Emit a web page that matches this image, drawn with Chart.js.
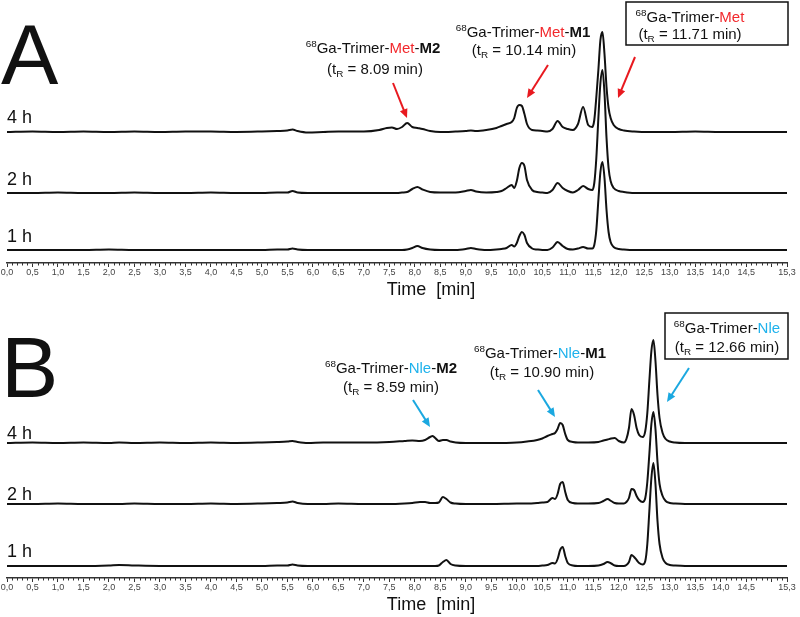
<!DOCTYPE html>
<html>
<head>
<meta charset="utf-8">
<script src="https://cdn.jsdelivr.net/npm/chart.js@4.4.1/dist/chart.umd.min.js"></script>
<style>
  html, body { margin: 0; padding: 0; background: #fff; }
  canvas { display: block; }
</style>
</head>
<body>
<canvas id="panelA" width="800" height="308"></canvas>
<canvas id="panelB" width="800" height="309"></canvas>
<script>
// ---- data (signal above each trace's baseline) ----
var traceNames = ['4 h', '2 h', '1 h'];
var tickValues = [0, 0.5, 1, 1.5, 2, 2.5, 3, 3.5, 4, 4.5, 5, 5.5, 6, 6.5, 7, 7.5, 8, 8.5, 9, 9.5,
                  10, 10.5, 11, 11.5, 12, 12.5, 13, 13.5, 14, 14.5, 15, 15.3];

// panel A : 68Ga-Trimer-Met
var timeA = [
  0, 0.5, 1, 1.5, 2, 2.5, 3, 3.5, 4, 4.5,
  5, 5.3, 5.5, 5.6, 5.7, 5.9, 6.2, 6.5, 7.0, 7.3,
  7.45, 7.55, 7.65, 7.75, 7.85, 7.95, 8.05, 8.15, 8.3, 8.5,
  8.8, 9.0, 9.1, 9.2, 9.4, 9.6, 9.7, 9.8, 9.9, 9.95,
  10.0, 10.05, 10.1, 10.15, 10.2, 10.3, 10.4, 10.5, 10.6, 10.7,
  10.8, 10.9, 11.0, 11.1, 11.2, 11.3, 11.4, 11.48, 11.52, 11.56,
  11.6, 11.64, 11.68, 11.72, 11.76, 11.8, 11.84, 11.9, 12.0, 12.1,
  12.3, 12.6, 13, 13.5, 14, 14.5, 15.3
];
var metA4h = [
  0, 0.5, 0, 0.5, 0, 0.5, 0, 0.5, 0.5, 0,
  0.5, 1, 1.5, 2.5, 1, -0.5, 0, 0.5, 0.5, 2,
  4, 4.5, 3, 5, 9, 5, 4, 3, 1, 0,
  0.5, 1, 1.5, 1, 2, 4, 6, 8, 10, 14,
  24, 27, 26, 18, 8, 2, 1.5, 1, 0.5, 3,
  11, 5, 3, 2, 8, 25, 7, 5, 12, 35,
  62, 92, 100, 78, 45, 24, 14, 7, 3, 1.5,
  0.5, 0, 0, 0.5, 0, 0, 0
];
var metA2h = [
  0, 0, 0.5, 0, 0, 0.5, 0, 0, 0.5, 0,
  0, 0.5, 0.5, 2, 0.5, 0, 0, 0, 0, 0,
  0, 0, 0, 0.5, 1, 4, 6, 3.5, 1, 0.5,
  0.5, 2, 3, 1.5, 0.5, 1, 2, 5, 8, 5,
  12, 25, 30, 27, 13, 3, 1, 0.5, 0, 3,
  10, 5, 2, 0.5, 3, 7, 4, 3, 10, 35,
  75, 110, 123, 100, 55, 25, 12, 5, 2, 1,
  0, 0, 0, 0, 0, 0, 0
];
var metA1h = [
  0, 0, 0, 0, 0.5, 0, 0, 0, 0, 0,
  0, 0.5, 0.5, 1.5, 0.5, 0, 0, 0, 0, 0,
  0, 0, 0, 0, 0.5, 2, 4, 2, 0.5, 0,
  0, 1, 2, 1, 0, 0.5, 1, 2, 5, 3.5,
  7, 14, 18, 15, 7, 1.5, 0.5, 0, 0, 2.5,
  8, 4, 1, 0.5, 1.5, 3, 1.5, 1.5, 5, 20,
  50, 78, 88, 72, 40, 18, 8, 3, 1, 0.5,
  0, 0, 0, 0, 0, 0, 0
];

// panel B : 68Ga-Trimer-Nle
var timeB = [
  0, 0.5, 1, 1.5, 2, 2.2, 2.5, 3, 3.5, 4,
  4.5, 5, 5.3, 5.5, 5.6, 5.7, 5.9, 6.2, 6.5, 7.0,
  7.5, 7.8, 7.95, 8.1, 8.2, 8.3, 8.35, 8.4, 8.47, 8.55,
  8.62, 8.7, 8.8, 9.0, 9.5, 10.0, 10.2, 10.4, 10.5, 10.6,
  10.7, 10.75, 10.8, 10.85, 10.9, 10.95, 11.0, 11.1, 11.2, 11.4,
  11.6, 11.7, 11.78, 11.85, 11.92, 12.0, 12.1, 12.15, 12.2, 12.25,
  12.3, 12.35, 12.4, 12.47, 12.52, 12.56, 12.6, 12.64, 12.68, 12.72,
  12.76, 12.8, 12.86, 12.92, 13.0, 13.1, 13.3, 13.6, 14, 14.5,
  15.3
];
var nleB4h = [
  0, 0.5, 0, 0.5, 0, 0.5, 0, 0.5, 0, 0.5,
  0, 0.5, 1, 1.5, 2, 1, 0, 0.5, 0.5, 0.5,
  1, 2, 2.5, 2, 3, 6, 7, 5, 2, 3,
  3, 1.5, 0.5, 0, 0, 0.5, 1.5, 3, 4.5, 7,
  9, 10, 14, 20, 18, 9, 3, 1, 0.5, 0.5,
  1, 2.5, 3.5, 4.5, 5, 2, 0.5, 4, 15, 34,
  28, 15, 8, 6, 12, 30, 62, 92, 103, 82,
  48, 25, 10, 4, 1.5, 0.5, 0, 0, 0, 0,
  0
];
var nleB2h = [
  0, 0, 0.5, 0, 0, 0, 0.5, 0, 0, 0.5,
  0, 0.5, 1, 1.5, 2.5, 1, 0, 0, 0.5, 0,
  0, 0.5, 1, 2, 2, 1, 1, 1, 1.5, 7,
  5, 1.5, 0.5, 0, 0, 0.5, 0.5, 1, 1.5, 2,
  6, 5, 10, 20, 22, 12, 4, 1, 0.5, 0.5,
  1, 3, 5, 3, 1, 0.5, 0.5, 2, 6, 15,
  14, 8, 4, 2, 6, 22, 50, 80, 92, 75,
  42, 20, 8, 3, 1, 0.5, 0, 0, 0, 0,
  0
];
var nleB1h = [
  0, 0, 0, 0, 0.5, 1, 0.5, 0, 0, 0,
  0, 0, 0.5, 0.5, 1.5, 0.5, 0, 0, 0, 0,
  0, 0, 0, 0, 0, 0, 0, 0, 0.5, 4,
  6, 2, 0.5, 0, 0, 0, 0, 0, 0.5, 1,
  3, 2.5, 7, 16, 19, 10, 3, 0.5, 0, 0,
  0.5, 2, 4, 2.5, 0.5, 0, 0, 1, 4, 11,
  9, 6, 3, 1.5, 5, 22, 55, 88, 103, 82,
  45, 22, 8, 3, 1, 0.5, 0, 0, 0, 0,
  0
];

// ---- look ----
var RED = '#f2282c', RED_ARROW = '#e8191f';
var BLUE = '#1fb2ec', BLUE_ARROW = '#1ba8e0';
var INK = '#111';
Chart.defaults.font.family = "'Liberation Sans', Arial, sans-serif";

function nameRuns(tag, color, suffix) {
  var r = [{ t: '68', sup: true }, { t: 'Ga-Trimer-' }, { t: tag, c: color }];
  if (suffix) { r.push({ t: '-' }); r.push({ t: suffix, b: true }); }
  return r;
}
function trRuns(val) {
  return [{ t: '(t' }, { t: 'R', sub: true }, { t: ' = ' + val + ' min)' }];
}

function runFont(r, size) {
  var s = (r.sup || r.sub) ? size * 0.66 : size;
  return (r.b ? 'bold ' : '') + s + "px 'Liberation Sans', Arial, sans-serif";
}
function drawRich(ctx, runs, cx, by, size) {
  var w = 0;
  runs.forEach(function (r) { ctx.font = runFont(r, size); w += ctx.measureText(r.t).width; });
  var x = cx - w / 2;
  ctx.textAlign = 'left';
  ctx.textBaseline = 'alphabetic';
  runs.forEach(function (r) {
    ctx.font = runFont(r, size);
    ctx.fillStyle = r.c || INK;
    var dy = r.sup ? -size * 0.38 : (r.sub ? size * 0.22 : 0);
    ctx.fillText(r.t, x, by + dy);
    x += ctx.measureText(r.t).width;
  });
}
function drawArrow(ctx, a, color) {
  var x1 = a[0], y1 = a[1], x2 = a[2], y2 = a[3];
  var ang = Math.atan2(y2 - y1, x2 - x1), hl = 9, hw = 4;
  ctx.strokeStyle = color; ctx.fillStyle = color; ctx.lineWidth = 2;
  ctx.beginPath();
  ctx.moveTo(x1, y1);
  ctx.lineTo(x2 - Math.cos(ang) * hl * 0.8, y2 - Math.sin(ang) * hl * 0.8);
  ctx.stroke();
  ctx.beginPath();
  ctx.moveTo(x2, y2);
  ctx.lineTo(x2 - Math.cos(ang) * hl + Math.sin(ang) * hw, y2 - Math.sin(ang) * hl - Math.cos(ang) * hw);
  ctx.lineTo(x2 - Math.cos(ang) * hl - Math.sin(ang) * hw, y2 - Math.sin(ang) * hl + Math.cos(ang) * hw);
  ctx.closePath();
  ctx.fill();
}

// minor ticks, panel letter, trace names, axis title and the peak annotations
var decor = {
  id: 'decor',
  afterDraw: function (chart, args, o) {
    var ctx = chart.ctx, xs = chart.scales.x, y0 = xs.top;
    ctx.save();
    ctx.strokeStyle = '#333'; ctx.lineWidth = 1;
    ctx.beginPath();
    for (var k = 0; k <= 153; k++) {
      if (k % 5 === 0) continue;
      var px = Math.round(xs.getPixelForValue(k / 10)) + 0.5;
      ctx.moveTo(px, y0); ctx.lineTo(px, y0 + 2.5);
    }
    ctx.stroke();

    ctx.fillStyle = INK;
    ctx.textAlign = 'left'; ctx.textBaseline = 'alphabetic';
    ctx.font = "86px 'Liberation Sans', Arial, sans-serif";
    ctx.fillText(o.letter, 1, o.letterY);

    ctx.font = "18px 'Liberation Sans', Arial, sans-serif";
    traceNames.forEach(function (n, i) { ctx.fillText(n, 7, o.nameY[i]); });

    ctx.textAlign = 'center'; ctx.textBaseline = 'middle';
    ctx.fillText('Time  [min]', 431, y0 + 27);

    o.notes.forEach(function (n) { drawRich(ctx, n.runs, n.x, n.y, 15); });
    o.arrows.forEach(function (a) { drawArrow(ctx, a, o.arrowColor); });
    ctx.strokeStyle = INK; ctx.lineWidth = 1.5;
    ctx.strokeRect(o.box[0], o.box[1], o.box[2], o.box[3]);
    ctx.restore();
  }
};

function makePanel(id, times, series, offsets, axisHeight, yMax, deco) {
  var datasets = series.map(function (vals, i) {
    return {
      label: traceNames[i],
      data: times.map(function (t, j) { return { x: t, y: offsets[i] + vals[j] }; }),
      borderColor: INK,
      borderWidth: 2,
      pointRadius: 0,
      fill: false,
      cubicInterpolationMode: 'monotone'
    };
  });
  return new Chart(document.getElementById(id), {
    type: 'line',
    data: { datasets: datasets },
    plugins: [decor],
    options: {
      responsive: false,
      animation: false,
      layout: { padding: { left: 7, right: 13, top: 10, bottom: 0 } },
      plugins: { legend: { display: false }, tooltip: { enabled: false }, decor: deco },
      scales: {
        x: {
          type: 'linear', min: 0, max: 15.3,
          border: { display: true, color: '#333', width: 1.5 },
          grid: { drawOnChartArea: false, drawTicks: true, tickLength: 4, color: '#333' },
          ticks: {
            autoSkip: false, maxRotation: 0, padding: 0, color: '#444',
            font: { size: 9 },
            callback: function (v) { return v === 15 ? '' : v.toFixed(1).replace('.', ','); }
          },
          afterBuildTicks: function (s) { s.ticks = tickValues.map(function (v) { return { value: v }; }); },
          afterFit: function (s) { s.height = axisHeight; }
        },
        y: { display: false, min: 0, max: yMax }
      }
    }
  });
}

makePanel('panelA', timeA, [metA4h, metA2h, metA1h], [131, 70, 13], 45, 253, {
  letter: 'A', letterY: 84, nameY: [123, 185, 242],
  arrowColor: RED_ARROW,
  notes: [
    { x: 373, y: 53, runs: nameRuns('Met', RED, 'M2') },
    { x: 375, y: 74, runs: trRuns('8.09') },
    { x: 523, y: 37, runs: nameRuns('Met', RED, 'M1') },
    { x: 524, y: 55, runs: trRuns('10.14') },
    { x: 690, y: 22, runs: nameRuns('Met', RED) },
    { x: 690, y: 39, runs: trRuns('11.71') }
  ],
  arrows: [[393, 83, 407, 118], [548, 65, 527, 98], [635, 57, 618, 98]],
  box: [626, 2, 162, 43]
});

makePanel('panelB', timeB, [nleB4h, nleB2h, nleB1h], [135, 74, 12], 39, 260, {
  letter: 'B', letterY: 89, nameY: [131, 192, 249],
  arrowColor: BLUE_ARROW,
  notes: [
    { x: 391, y: 65, runs: nameRuns('Nle', BLUE, 'M2') },
    { x: 391, y: 84, runs: trRuns('8.59') },
    { x: 540, y: 50, runs: nameRuns('Nle', BLUE, 'M1') },
    { x: 542, y: 69, runs: trRuns('10.90') },
    { x: 727, y: 25, runs: nameRuns('Nle', BLUE) },
    { x: 727, y: 44, runs: trRuns('12.66') }
  ],
  arrows: [[413, 92, 430, 119], [538, 82, 555, 109], [689, 60, 667, 94]],
  box: [665, 5, 123, 46]
});
</script>
</body>
</html>
